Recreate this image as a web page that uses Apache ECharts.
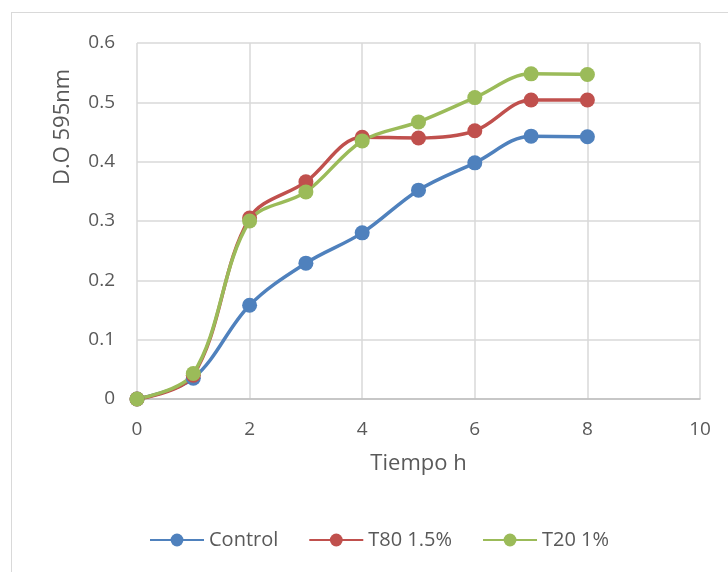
<!DOCTYPE html>
<html>
<head>
<meta charset="utf-8">
<script src="https://cdn.jsdelivr.net/npm/echarts@6/dist/echarts.min.js"></script>
<style>
  html, body { margin: 0; padding: 0; background: #fff; }
  #frame { position: absolute; left: 11px; top: 12px; width: 740px; height: 600px; border: 1px solid #d9d9d9; box-sizing: border-box; }
  #main { position: absolute; left: 0; top: 0; width: 728px; height: 572px; }
</style>
</head>
<body>
<div id="frame"></div>
<div id="main"></div>
<script>
// tiempo (h)
let hours = [0, 1, 2, 3, 4, 5, 6, 7, 8];
let control = [0, 0.035, 0.158, 0.229, 0.280, 0.352, 0.398, 0.443, 0.442];
let t80 = [0, 0.040, 0.305, 0.366, 0.441, 0.440, 0.452, 0.504, 0.504];
let t20 = [0, 0.043, 0.300, 0.349, 0.435, 0.467, 0.508, 0.548, 0.547];
let seriesNames = ['Control', 'T80 1.5%', 'T20 1%'];
let colors = ['#4F81BD', '#C0504D', '#9BBB59'];

let font = '"Open Sans", "Noto Sans", sans-serif';

function pairs(values) {
    return hours.map((h, i) => [h, values[i]]);
}

function makeSeries(name, values, color) {
    return {
        name: name,
        type: 'line',
        data: pairs(values),
        smooth: 0.35,
        symbol: 'circle',
        symbolSize: 15,
        lineStyle: {width: 3.5, color: color},
        itemStyle: {color: color},
        emphasis: {disabled: true}
    };
}

let option = {
    animation: false,
    textStyle: {fontFamily: font},
    grid: {left: 137, right: 28, top: 43, bottom: 173},
    legend: {
        bottom: 17,
        left: 144,
        itemWidth: 54,
        itemHeight: 16,
        itemGap: 30,
        textStyle: {fontSize: 20, color: '#595959', fontFamily: font},
        data: seriesNames
    },
    xAxis: {
        type: 'value',
        min: 0,
        max: 10,
        interval: 2,
        name: 'Tiempo h',
        nameLocation: 'middle',
        nameGap: 54,
        nameTextStyle: {fontSize: 22, color: '#595959'},
        axisLine: {show: true, lineStyle: {color: '#bfbfbf', width: 1.5}},
        axisTick: {show: false},
        axisLabel: {fontSize: 19, color: '#595959', margin: 21},
        splitLine: {show: true, lineStyle: {color: '#d9d9d9', width: 1.5}}
    },
    yAxis: {
        type: 'value',
        min: 0,
        max: 0.6,
        interval: 0.1,
        axisLine: {show: false},
        axisTick: {show: false},
        axisLabel: {fontSize: 19, color: '#595959', margin: 22},
        splitLine: {show: true, lineStyle: {color: '#d9d9d9', width: 1.5}}
    },
    graphic: [{
        type: 'text',
        x: 63,
        y: 127,
        rotation: Math.PI / 2,
        style: {
            text: 'D.O 595nm',
            fontSize: 22,
            fontFamily: font,
            fill: '#595959',
            align: 'center',
            verticalAlign: 'middle'
        }
    }],
    series: [
        makeSeries(seriesNames[0], control, colors[0]),
        makeSeries(seriesNames[1], t80, colors[1]),
        makeSeries(seriesNames[2], t20, colors[2])
    ]
};

let chart = echarts.init(document.getElementById('main'));
chart.setOption(option);
</script>
</body>
</html>
